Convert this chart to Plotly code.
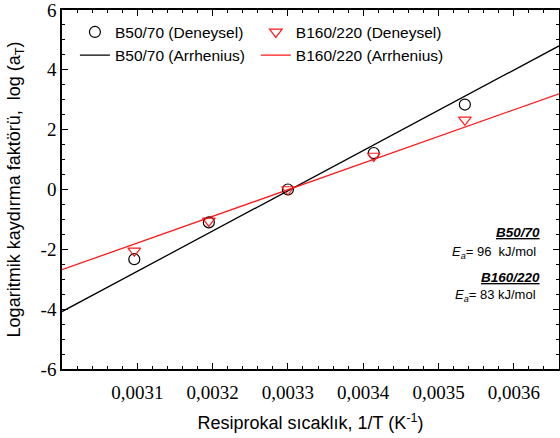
import plotly.graph_objects as go

# Data
inv_T = [0.003096, 0.003195, 0.0033, 0.003414, 0.003535]
b50_exp = [-2.33, -1.1, 0.0, 1.22, 2.84]
b160_exp = [-2.05, -1.05, 0.0, 1.12, 2.33]

fit_x = [0.0030, 0.00366]
b50_fit = [-4.08, 4.8]
b160_fit = [-2.68, 3.2]

x_tickvals = [0.0031, 0.0032, 0.0033, 0.0034, 0.0035, 0.0036]
x_ticktext = ["0,0031", "0,0032", "0,0033", "0,0034", "0,0035", "0,0036"]
y_tickvals = [-6, -4, -2, 0, 2, 4, 6]
y_ticktext = ["-6", "-4", "-2", "0", "2", "4", "6"]

X_RANGE = [0.0030, 0.00366]
Y_RANGE = [-6, 6]

SANS = "Liberation Sans"
SERIF = "Liberation Serif"

fig = go.Figure()
# invisible helper trace so the minor-tick overlay axes are drawn
fig.add_trace(go.Scatter(x=fit_x, y=b50_fit, mode="lines", xaxis="x2", yaxis="y2",
                         line=dict(width=0), opacity=0, showlegend=False, hoverinfo="skip"))
fig.add_trace(go.Scatter(x=fit_x, y=b50_fit, mode="lines", name="B50/70 (Arrhenius)",
                         line=dict(color="black", width=1.3), legend="legend", legendrank=2))
fig.add_trace(go.Scatter(x=fit_x, y=b160_fit, mode="lines", name="B160/220 (Arrhenius)",
                         line=dict(color="#ff1a1a", width=1.3), legend="legend2", legendrank=2))
fig.add_trace(go.Scatter(x=inv_T, y=b50_exp, mode="markers", name="B50/70 (Deneysel)",
                         marker=dict(symbol="circle-open", size=11, color="black", line=dict(width=1.2)),
                         legend="legend", legendrank=1))
fig.add_trace(go.Scatter(x=inv_T, y=b160_exp, mode="markers", name="B160/220 (Deneysel)",
                         marker=dict(symbol="triangle-down-open", size=11, color="#ff1a1a", line=dict(width=1.2)),
                         legend="legend2", legendrank=1))

legfont = dict(family=SANS, size=15.5, color="black")
fig.update_layout(
    width=560, height=438,
    margin=dict(l=62, r=1, t=10, b=69, autoexpand=False),
    paper_bgcolor="white", plot_bgcolor="white",
    showlegend=True,
    legend=dict(x=0.026, y=0.985, xanchor="left", yanchor="top", font=legfont,
                bgcolor="rgba(0,0,0,0)", itemwidth=30, tracegroupgap=0, traceorder="normal"),
    legend2=dict(x=0.39, y=0.985, xanchor="left", yanchor="top", font=legfont,
                 bgcolor="rgba(0,0,0,0)", itemwidth=30, tracegroupgap=0, traceorder="normal"),
    xaxis=dict(range=X_RANGE, tickmode="array", tickvals=x_tickvals, ticktext=x_ticktext,
               ticks="inside", ticklen=6, tickwidth=1, tickcolor="black",
               tickfont=dict(family=SERIF, size=19, color="#000000"), ticklabelstandoff=5,
               ticklabeloverflow="allow",
               showline=True, linecolor="black", linewidth=1.5, mirror="ticks",
               showgrid=False, zeroline=False,
               title=dict(text="Resiprokal sıcaklık, 1/T (K<sup>-1</sup>)",
                          font=dict(family=SANS, size=18, color="black"))),
    yaxis=dict(range=Y_RANGE, tickmode="array", tickvals=y_tickvals, ticktext=y_ticktext,
               ticks="inside", ticklen=6, tickwidth=1, tickcolor="black",
               tickfont=dict(family=SERIF, size=19, color="#000000"),
               ticklabeloverflow="allow",
               showline=True, linecolor="black", linewidth=1.5, mirror="ticks",
               showgrid=False, zeroline=False,
               title=dict(text="Logaritmik kaydırma faktörü,  log (a<sub>T</sub>)",
                          font=dict(family=SANS, size=18, color="black"))),
    xaxis2=dict(overlaying="x", anchor="y2", side="bottom", range=X_RANGE,
                tickmode="linear", tick0=0.0030, dtick=0.00002,
                ticks="inside", ticklen=3, tickwidth=1, tickcolor="black",
                showticklabels=False, showline=False, mirror="ticks",
                showgrid=False, zeroline=False),
    yaxis2=dict(overlaying="y", anchor="x2", side="left", range=Y_RANGE,
                tickmode="linear", tick0=0, dtick=0.5,
                ticks="inside", ticklen=3, tickwidth=1, tickcolor="black",
                showticklabels=False, showline=False, mirror="ticks",
                showgrid=False, zeroline=False),
)

annfont = dict(family=SANS, size=13, color="black")
fig.add_annotation(xref="paper", yref="y", x=0.965, y=-1.45, xanchor="right", yanchor="middle",
                   text="<b><i><u>B50/70</u></i></b>", showarrow=False, font=dict(family=SANS, size=13.5, color="black"))
fig.add_annotation(xref="paper", yref="y", x=0.957, y=-2.1, xanchor="right", yanchor="middle",
                   text="<i>E<sub>a</sub></i>= 96  kJ/mol", showarrow=False, font=annfont)
fig.add_annotation(xref="paper", yref="y", x=0.965, y=-2.95, xanchor="right", yanchor="middle",
                   text="<b><i><u>B160/220</u></i></b>", showarrow=False, font=dict(family=SANS, size=13.5, color="black"))
fig.add_annotation(xref="paper", yref="y", x=0.957, y=-3.55, xanchor="right", yanchor="middle",
                   text="<i>E<sub>a</sub></i>= 83 kJ/mol", showarrow=False, font=annfont)

fig.write_html("out.html", config={"displayModeBar": False},
               post_script="document.body.style.margin='0';document.body.style.padding='0';")
